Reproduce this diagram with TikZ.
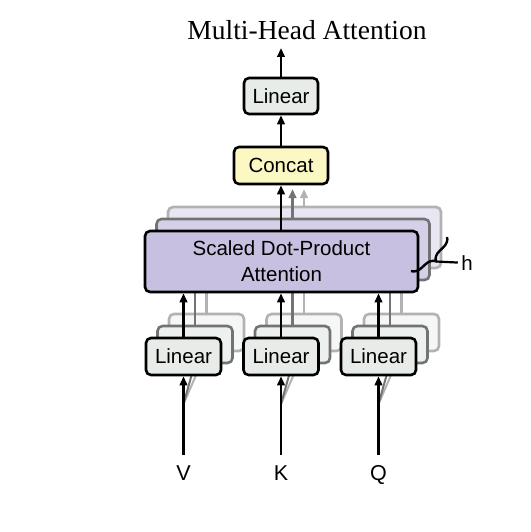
\documentclass[tikz,border=0pt]{standalone}
\usepackage{fontspec}
\setmainfont{Liberation Serif}
\setsansfont{Liberation Sans}
\usetikzlibrary{arrows.meta,decorations.pathreplacing}

\definecolor{linfill}{RGB}{231,236,233}
\definecolor{catfill}{RGB}{252,248,196}
\definecolor{attfill}{RGB}{199,192,224}

\begin{document}
\begin{tikzpicture}[x=1pt,y=-1pt,font=\sffamily\fontsize{20.5}{26}\selectfont]
\tikzstyle{block}=[draw=black, line width=2.6pt, rounded corners=5pt, inner sep=0pt, align=center]
\tikzstyle{linear block}=[block, fill=linfill, minimum width=75pt, minimum height=37pt]
\tikzstyle{concat block}=[block, fill=catfill, minimum width=94pt, minimum height=37pt]
\tikzstyle{attn block}=[block, fill=attfill, minimum width=273pt, minimum height=61pt]
\tikzstyle{flow}=[line width=2.6pt, -{Triangle[length=9pt,width=7.5pt]}]

\useasboundingbox (0,0) rectangle (530,532);

% Inputs V, K, Q and the points where their copies fork off
\foreach \i/\x/\name in {1/183.5/V,2/281/K,3/378.5/Q} {
  \node[anchor=base, inner sep=0pt, font=\sffamily\fontsize{21.5}{24}\selectfont] (in-\i) at (\x,480) {\name};
  \coordinate (in-top-\i) at (\x,455);
  \coordinate (fork-\i) at (\x,404);
}

% Back copies of the heads (h layers)
\foreach \k/\shade/\tint in {2/30/40,1/55/75} {
  \coordinate (cat-in-\k) at (281+\k*11.5,189);
  \foreach \i/\x in {1/183.5,2/281,3/378.5} {
    \draw[line width=2pt, draw=black!\shade] (fork-\i) -- (\x+\k*11.5,375-\k*12);
    \node[linear block, draw=black!\shade, fill=linfill!\tint!white] (lin-\i-\k) at (\x+\k*11.5,356.5-\k*12) {};
  }
  \node[attn block, draw=black!\shade, fill=attfill!\tint!white] (att-\k) at (281.5+\k*11.5,261.5-\k*12) {};
  \foreach \i in {1,2,3}
    \draw[flow, draw=black!\shade] (lin-\i-\k.north) -- (lin-\i-\k.north |- att-\k.south);
  \draw[flow, draw=black!\shade] (cat-in-\k |- att-\k.north) -- (cat-in-\k);
}

% Front head
\foreach \i/\x in {1/183.5,2/281,3/378.5} {
  \node[linear block] (lin-\i-0) at (\x,356.5) {Linear};
  \draw[flow] (in-top-\i) -- (lin-\i-0.south);
}
\node[attn block] (att-0) at (281.5,261.5) {Scaled Dot-Product\\Attention};
\foreach \i in {1,2,3}
  \draw[flow] (lin-\i-0.north) -- (lin-\i-0.north |- att-0.south);

% Concat and output projection
\node[concat block] (concat) at (281,165.5) {Concat};
\node[linear block, minimum width=74pt, minimum height=36pt] (out-lin) at (281,96) {Linear};
\coordinate (out) at (281,48);
\draw[flow] (concat.south |- att-0.north) -- (concat.south);
\draw[flow] (concat) -- (out-lin);
\draw[flow] (out-lin) -- (out);

% Brace marking the h heads
\coordinate (brace-hi) at (447,237);
\coordinate (brace-lo) at (411,271);
\coordinate (brace-tip) at (436,261.5);
\draw[line width=2.4pt, decorate, decoration={brace, amplitude=10pt}] (brace-hi) -- (brace-lo);
\node (h) at (467,263) {h};
\draw[line width=2.2pt] (brace-tip) -- (h);

% Title
\node[font=\rmfamily\fontsize{27.5}{30}\selectfont] (title) at (307,30) {Multi-Head Attention};
\end{tikzpicture}
\end{document}
